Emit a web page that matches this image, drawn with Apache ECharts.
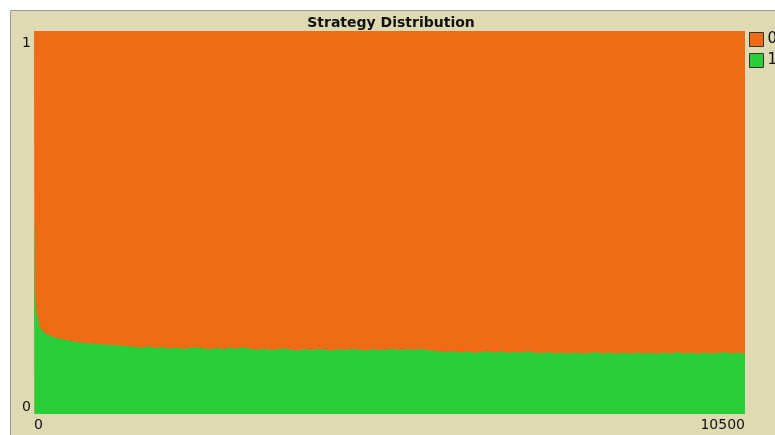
<!DOCTYPE html>
<html>
<head>
<meta charset="utf-8">
<script src="https://cdn.jsdelivr.net/npm/echarts@6/dist/echarts.min.js"></script>
<style>
html,body{margin:0;padding:0;background:#fff;}
#c{width:775px;height:435px;}
</style>
</head>
<body>
<div id="c"></div>
<script>
// ticks (x values) and share of strategy "1" (green); strategy "0" is the remainder
const ticks = [0, 8, 15, 25, 40, 60, 80, 115, 160, 240, 350, 450, 560, 680, 800, 950, 1100, 1250, 1400,
  1500, 1600, 1700, 1800, 1900, 2000, 2100, 2200, 2300, 2400, 2500, 2600, 2700, 2800, 2900,
  3000, 3100, 3200, 3300, 3400, 3500, 3600, 3700, 3800, 3900, 4000, 4100, 4200, 4300, 4400,
  4500, 4600, 4700, 4800, 4900, 5000, 5100, 5200, 5300, 5400, 5500, 5600, 5700, 5800, 5900,
  6000, 6100, 6200, 6300, 6400, 6500, 6600, 6700, 6800, 6900, 7000, 7100, 7200, 7300, 7400,
  7500, 7600, 7700, 7800, 7900, 8000, 8100, 8200, 8300, 8400, 8500, 8600, 8700, 8800, 8900,
  9000, 9100, 9200, 9300, 9400, 9500, 9600, 9700, 9800, 9900, 10000, 10100, 10200, 10300, 10400, 10500];
const share1 = [0.50, 0.48, 0.32, 0.29, 0.264, 0.251, 0.227, 0.219, 0.211, 0.204, 0.198, 0.194, 0.190, 0.187, 0.185, 0.183, 0.181, 0.179, 0.177,
  0.175, 0.173, 0.176, 0.172, 0.174, 0.171, 0.173, 0.170, 0.172, 0.174, 0.171, 0.169, 0.172, 0.170, 0.173,
  0.171, 0.174, 0.170, 0.168, 0.170, 0.167, 0.169, 0.171, 0.168, 0.166, 0.169, 0.167, 0.170, 0.168, 0.166,
  0.169, 0.167, 0.170, 0.168, 0.166, 0.169, 0.167, 0.168, 0.170, 0.167, 0.169, 0.168, 0.170, 0.167, 0.165,
  0.163, 0.162, 0.164, 0.161, 0.163, 0.160, 0.162, 0.164, 0.161, 0.163, 0.160, 0.162, 0.161, 0.163, 0.160,
  0.159, 0.161, 0.158, 0.160, 0.158, 0.160, 0.157, 0.159, 0.161, 0.158, 0.160, 0.157, 0.159, 0.158, 0.160,
  0.158, 0.159, 0.157, 0.160, 0.158, 0.161, 0.158, 0.159, 0.157, 0.160, 0.158, 0.159, 0.161, 0.158, 0.160, 0.158];
const seriesNames = ['0', '1'];
const title = 'Strategy Distribution';
const xTickLabels = [0, 10500];
const yTickLabels = [0, 1];

// share of strategy "0" is the remainder; its band is drawn from the green top up to the cumulative total
const share0 = share1.map(v => 1 - v);
const data1 = ticks.map((t, i) => [t, share1[i]]);
const data0cum = ticks.map((t, i) => [t, share1[i] + share0[i]]);

const ORANGE = '#f06b15';
const GREEN = '#2acd3a';
const FONT = 'DejaVu Sans';

const chart = echarts.init(document.getElementById('c'), null, {renderer: 'canvas'});
chart.setOption({
  backgroundColor: '#ffffff',
  animation: false,
  graphic: [{
    type: 'rect', z: -10, silent: true,
    shape: {x: 10.5, y: 10.5, width: 780, height: 440},
    style: {fill: '#e0dab3', stroke: '#9a9a9a', lineWidth: 1}
  }],
  title: {
    text: title, left: 386, top: 11, textAlign: 'center',
    textStyle: {fontFamily: FONT, fontWeight: 'bold', fontSize: 14, color: '#111'}
  },
  legend: {
    data: seriesNames, orient: 'vertical', left: 749, top: 32,
    itemWidth: 14, itemHeight: 14, itemGap: 6, icon: 'rect', padding: 0,
    textStyle: {fontFamily: FONT, fontSize: 15, color: '#111', padding: [0, 0, 0, -1]},
    itemStyle: {borderColor: '#333', borderWidth: 1}
  },
  grid: {left: 34, top: 31, right: 30, bottom: 21, containLabel: false},
  xAxis: {
    type: 'value', min: xTickLabels[0], max: xTickLabels[1], interval: xTickLabels[1],
    axisLine: {show: false}, axisTick: {show: false}, splitLine: {show: false},
    axisLabel: {
      fontFamily: FONT, fontSize: 14, color: '#111', margin: 4,
      alignMinLabel: 'left', alignMaxLabel: 'right',
      showMinLabel: true, showMaxLabel: true,
      formatter: v => String(v)
    }
  },
  yAxis: {
    type: 'value', min: yTickLabels[0], max: yTickLabels[1], interval: 1,
    axisLine: {show: false}, axisTick: {show: false}, splitLine: {show: false},
    axisLabel: {
      fontFamily: FONT, fontSize: 14, color: '#111', margin: 3, lineHeight: 14,
      verticalAlignMinLabel: 'bottom', verticalAlignMaxLabel: 'top',
      formatter: v => v === yTickLabels[1] ? '{a|' + v + '}' : '{b|' + v + '}',
      rich: {
        a: {fontFamily: FONT, fontSize: 14, color: '#111', lineHeight: 14, padding: [10, 0, 0, 0]},
        b: {fontFamily: FONT, fontSize: 14, color: '#111', lineHeight: 14}
      }
    }
  },
  series: [
    {
      name: seriesNames[0], type: 'line', data: data0cum,
      showSymbol: false, symbol: 'none', color: ORANGE,
      lineStyle: {width: 0}, areaStyle: {color: ORANGE, opacity: 1},
      itemStyle: {color: ORANGE}, z: 1
    },
    {
      name: seriesNames[1], type: 'line', data: data1,
      showSymbol: false, symbol: 'none', color: GREEN,
      lineStyle: {width: 0}, areaStyle: {color: GREEN, opacity: 1},
      itemStyle: {color: GREEN}, z: 2
    }
  ]
});
</script>
</body>
</html>
